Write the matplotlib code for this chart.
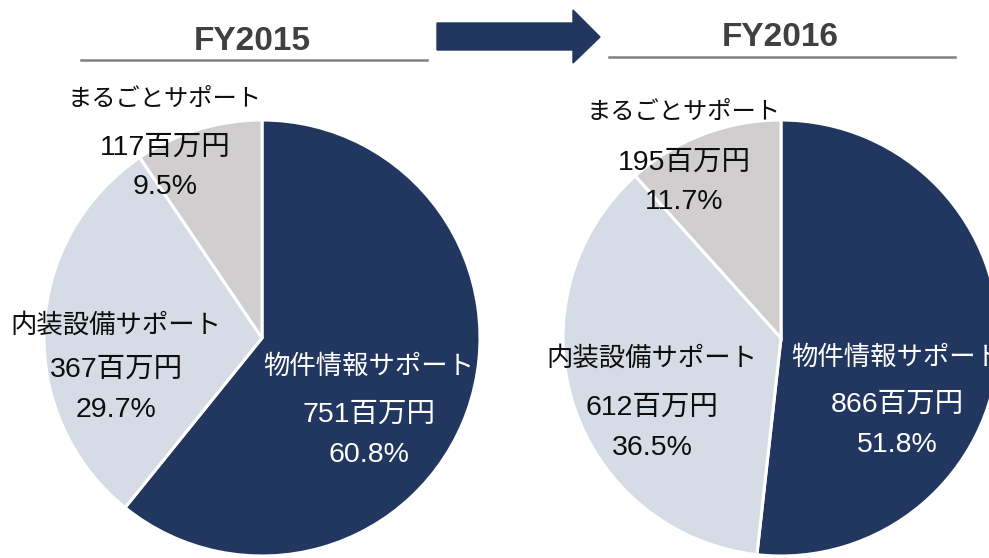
import matplotlib.pyplot as plt
from matplotlib.patches import Polygon

# データ
segments = ['物件情報サポート', '内装設備サポート', 'まるごとサポート']
fy2015_values = [751, 367, 117]
fy2016_values = [866, 612, 195]
fy2015_pcts = ['60.8%', '29.7%', '9.5%']
fy2016_pcts = ['51.8%', '36.5%', '11.7%']
years = ['FY2015', 'FY2016']

colors = ['#22375f', '#d6dce5', '#d0cece']
text_colors = ['white', '#0d0d0d', '#0d0d0d']
jp_font = ['Liberation Sans', 'Noto Sans CJK JP']

W, H = 989, 558
fig = plt.figure(figsize=(W / 100, H / 100), dpi=100)
ax = fig.add_axes([0, 0, 1, 1])

# 左右の円グラフ (y軸を反転しているので startangle=-90, counterclock=True で時計回り)
pies = [
    (fy2015_values, fy2015_pcts, (262, 338)),
    (fy2016_values, fy2016_pcts, (781, 338)),
]
for values, pcts, center in pies:
    ax.pie(values, colors=colors, startangle=-90, counterclock=True,
           center=center, radius=218,
           wedgeprops=dict(edgecolor='white', linewidth=2.2))

ax.set_xlim(0, W)
ax.set_ylim(H, 0)
ax.set_aspect('equal')
ax.axis('off')

# ラベル位置 (名前, 金額, 割合)
label_pos = [
    [(369, 367, 415, 455), (116, 325, 370, 410), (165, 100, 148, 187)],
    [(897, 358, 405, 445), (652, 358, 408, 448), (684, 113, 163, 202)],
]
name_sizes = [19, 19, 17.5]
for (values, pcts, _), positions in zip(pies, label_pos):
    for i, (x, y_name, y_val, y_pct) in enumerate(positions):
        kw = dict(ha='center', va='center', family=jp_font,
                  color=text_colors[i])
        ax.text(x, y_name, segments[i], fontsize=name_sizes[i], **kw)
        ax.text(x, y_val, f'{values[i]}百万円', fontsize=20.5, **kw)
        ax.text(x, y_pct, pcts[i], fontsize=20.5, **kw)

# 年度タイトルと下線
title_x = [252, 780]
title_y = [41, 38]
line_span = [(81, 427, 60), (609, 955, 57)]
for name, tx, ty, (x0, x1, ly) in zip(years, title_x, title_y, line_span):
    ax.text(tx, ty, name, ha='center', va='center', fontsize=24,
            fontweight='bold', family='Liberation Sans', color='#404040')
    ax.plot([x0, x1], [ly, ly], color='#808080', linewidth=1.8)

# 矢印
arrow = Polygon([(437, 23), (573, 23), (573, 10), (600, 37), (573, 63),
                 (573, 50), (437, 50)], closed=True, facecolor='#22375f',
                edgecolor='#22375f')
ax.add_patch(arrow)

fig.savefig('out.png', dpi=100)
